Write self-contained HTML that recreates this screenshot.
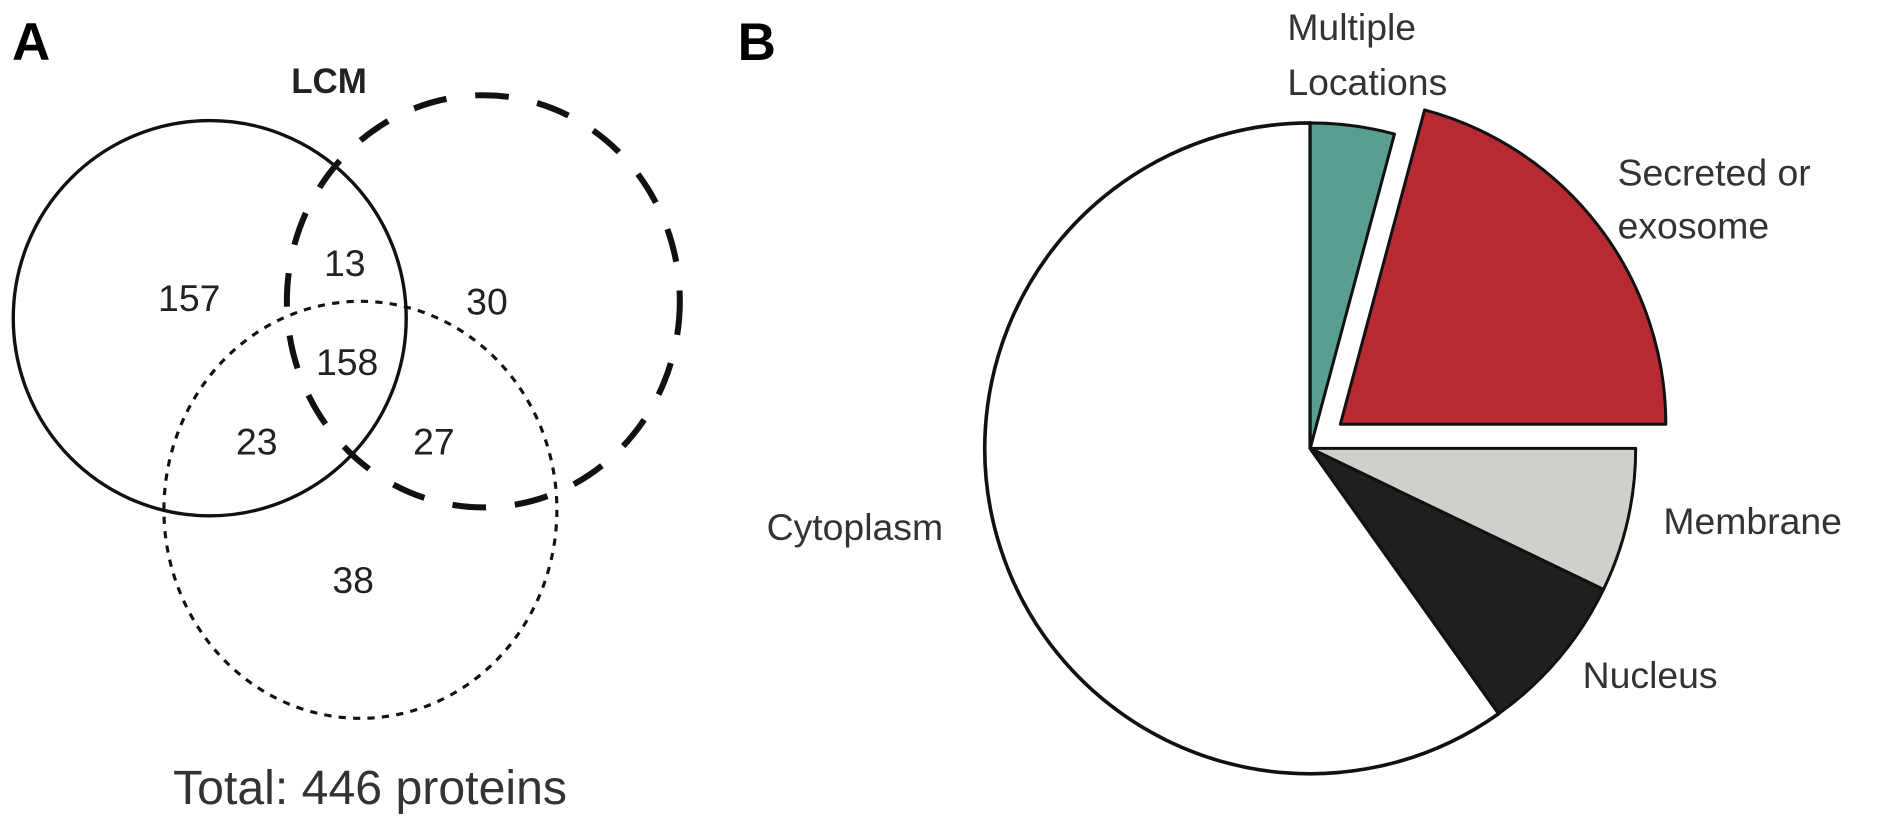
<!DOCTYPE html>
<html><head><meta charset="utf-8"><style>
html,body{margin:0;padding:0;background:#fff;}
svg{display:block;}
text{font-family:"Liberation Sans",Arial,sans-serif;}
</style></head><body>
<svg width="1890" height="828" viewBox="0 0 1568 687" preserveAspectRatio="none" xmlns="http://www.w3.org/2000/svg">
<rect width="1568" height="687" fill="#fff"/>
<!-- Panel A -->
<text x="10" y="50" font-size="44" font-weight="bold" fill="#000">A</text>
<text x="273" y="77" font-size="29" font-weight="bold" fill="#222" text-anchor="middle">LCM</text>
<ellipse cx="174" cy="264" rx="163" ry="164" fill="none" stroke="#111" stroke-width="2.8"/>
<ellipse cx="401" cy="250" rx="163" ry="171" fill="none" stroke="#111" stroke-width="5" stroke-dasharray="28,24"/>
<ellipse cx="299" cy="423" rx="163" ry="173" fill="none" stroke="#111" stroke-width="2.6" stroke-dasharray="6,6"/>
<g font-size="31" fill="#222" text-anchor="middle">
<text x="157" y="258">157</text>
<text x="286" y="229">13</text>
<text x="404" y="261">30</text>
<text x="288" y="311">158</text>
<text x="213" y="377">23</text>
<text x="360" y="377">27</text>
<text x="293" y="492">38</text>
</g>
<text x="307" y="667" font-size="40" fill="#333" text-anchor="middle">Total: 446 proteins</text>
<!-- Panel B -->
<text x="612" y="50" font-size="44" font-weight="bold" fill="#000">B</text>
<g stroke="#111" stroke-width="2.5" stroke-linejoin="round">
<path d="M1087,372 L1243.4,592.1 A270,270 0 1 1 1087,102 Z" fill="#fff" stroke-width="3"/>
<path d="M1087,372 L1087,102 A270,270 0 0 1 1156.9,111.2 Z" fill="#5a9e8f"/>
<path d="M1112,352 L1181.9,91.2 A270,270 0 0 1 1382,352 Z" fill="#b72a31"/>
<path d="M1087,372 L1357,372 A270,270 0 0 1 1330.3,489.1 Z" fill="#cfd0cb"/>
<path d="M1087,372 L1330.3,489.1 A270,270 0 0 1 1243.4,592.1 Z" fill="#201f1d"/>
</g>
<g font-size="31" fill="#333">
<text x="1068" y="33">Multiple</text>
<text x="1068" y="79">Locations</text>
<text x="1342" y="154">Secreted or</text>
<text x="1342" y="198">exosome</text>
<text x="1380" y="443">Membrane</text>
<text x="1313" y="571">Nucleus</text>
<text x="636" y="448">Cytoplasm</text>
</g>
</svg>
</body></html>
